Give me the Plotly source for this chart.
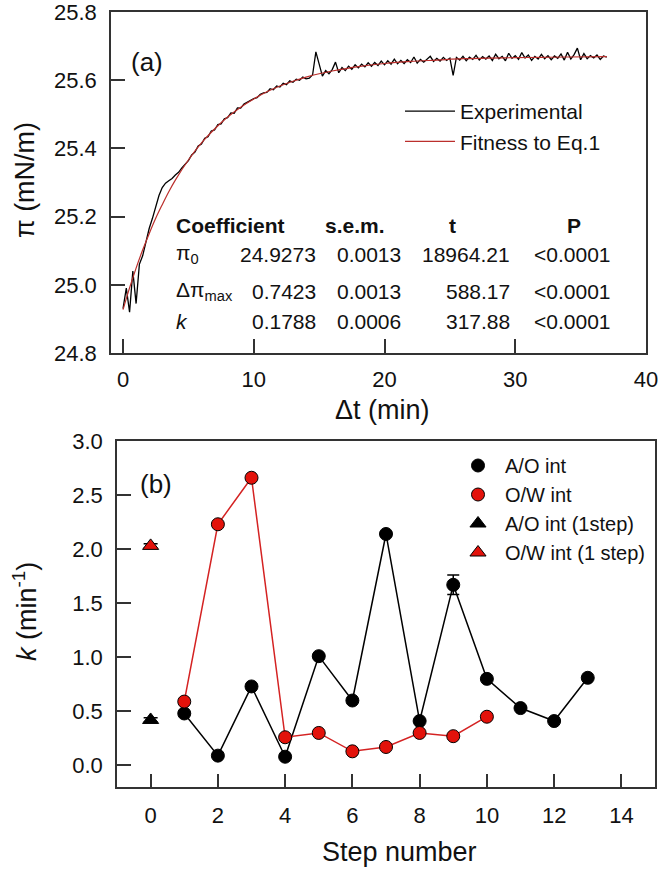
import plotly.graph_objects as go

# ---- panel (a): surface pressure vs time ----
t_step = 0.25  # min between samples of the experimental trace
pi_exp = [
    24.930, 24.990, 24.920, 25.040,
    24.945, 25.060, 25.085, 25.130,
    25.165, 25.195, 25.232, 25.262,
    25.285, 25.298, 25.305, 25.312,
    25.322, 25.330, 25.343, 25.355,
    25.364, 25.381, 25.389, 25.407,
    25.413, 25.430, 25.434, 25.451,
    25.454, 25.470, 25.472, 25.487,
    25.490, 25.504, 25.503, 25.519,
    25.518, 25.530, 25.535, 25.542,
    25.546, 25.549, 25.559, 25.563,
    25.564, 25.575, 25.572, 25.583,
    25.580, 25.591, 25.587, 25.598,
    25.594, 25.603, 25.600, 25.609,
    25.604, 25.606, 25.616, 25.683,
    25.647, 25.612, 25.628, 25.619,
    25.631, 25.653, 25.622, 25.637,
    25.628, 25.641, 25.632, 25.645,
    25.636, 25.647, 25.639, 25.651,
    25.641, 25.652, 25.643, 25.656,
    25.645, 25.657, 25.647, 25.662,
    25.648, 25.658, 25.649, 25.660,
    25.652, 25.668, 25.650, 25.661,
    25.653, 25.663, 25.670, 25.655,
    25.664, 25.656, 25.667, 25.658,
    25.665, 25.614, 25.667, 25.659,
    25.670, 25.657, 25.668, 25.661,
    25.673, 25.659, 25.669, 25.662,
    25.671, 25.658, 25.676, 25.663,
    25.670, 25.657, 25.679, 25.664,
    25.672, 25.661, 25.681, 25.665,
    25.674, 25.658, 25.670, 25.662,
    25.676, 25.663, 25.672, 25.660,
    25.671, 25.664, 25.677, 25.659,
    25.682, 25.662, 25.675, 25.694,
    25.660, 25.678, 25.663, 25.672,
    25.665, 25.674, 25.661, 25.671,
    25.668,
]

fit_t = [0, 0.5, 1, 1.5, 2, 2.5, 3, 3.5, 4, 5, 6, 7, 8, 9, 10, 11, 12, 13, 14,
         15, 16, 18, 20, 22, 24, 26, 28, 30, 32, 34, 37]
fit_pi = [24.927, 24.991, 25.049, 25.102, 25.150, 25.195, 25.235, 25.273,
          25.307, 25.366, 25.416, 25.457, 25.492, 25.521, 25.545, 25.566,
          25.583, 25.597, 25.609, 25.619, 25.627, 25.640, 25.649, 25.655,
          25.659, 25.663, 25.665, 25.666, 25.667, 25.668, 25.669]

coef_names = ['π<sub>0</sub>', 'Δπ<sub>max</sub>', '<i>k</i>']
coef_value = ['24.9273', '0.7423', '0.1788']
coef_sem = ['0.0013', '0.0013', '0.0006']
coef_t = ['18964.21', '588.17', '317.88']
coef_p = ['&lt;0.0001', '&lt;0.0001', '&lt;0.0001']

# ---- panel (b): rate constant per step ----
steps_ao = [1, 2, 3, 4, 5, 6, 7, 8, 9, 10, 11, 12, 13]
k_ao = [0.48, 0.09, 0.73, 0.08, 1.01, 0.60, 2.14, 0.41, 1.67, 0.80, 0.53, 0.41, 0.81]
k_ao_err = [0, 0, 0, 0, 0, 0, 0.02, 0, 0.09, 0, 0, 0, 0]
steps_ow = [1, 2, 3, 4, 5, 6, 7, 8, 9, 10]
k_ow = [0.59, 2.23, 2.66, 0.26, 0.30, 0.13, 0.17, 0.30, 0.27, 0.45]
step_1 = [0]
k_ao_1 = [0.42]
k_ao_1_err = [0.02]
k_ow_1 = [2.03]
k_ow_1_err = [0.02]

W, H = 664, 877
FONT = 'Liberation Sans, Arial, sans-serif'
RED_FIT = '#bb2f2c'
RED = '#e3120b'
AXC = '#333333'


def px(x):
    return x / W


def py(y):
    return 1 - y / H


fig = go.Figure()

fig.add_trace(go.Scatter(y=pi_exp, x0=0, dx=t_step, mode='lines', name='Experimental',
                         line=dict(color='black', width=1.3), xaxis='x', yaxis='y', legend='legend'))
fig.add_trace(go.Scatter(x=fit_t, y=fit_pi, mode='lines', name='Fitness to Eq.1',
                         line=dict(color=RED_FIT, width=1.2, shape='spline'),
                         xaxis='x', yaxis='y', legend='legend'))

mk_line = dict(color='black', width=1)
fig.add_trace(go.Scatter(x=steps_ao, y=k_ao, mode='lines', showlegend=False,
                         line=dict(color='black', width=1.5), xaxis='x2', yaxis='y2'))
fig.add_trace(go.Scatter(x=steps_ao, y=k_ao, mode='markers', name='A/O int', legendgroup='a',
                         marker=dict(symbol='circle', size=13, color='black', line=mk_line),
                         error_y=dict(type='data', array=k_ao_err, color='black', thickness=1.5, width=6),
                         xaxis='x2', yaxis='y2', legend='legend2'))
fig.add_trace(go.Scatter(x=steps_ow, y=k_ow, mode='lines', showlegend=False,
                         line=dict(color='#d42222', width=1.5), xaxis='x2', yaxis='y2'))
fig.add_trace(go.Scatter(x=steps_ow, y=k_ow, mode='markers', name='O/W int', legendgroup='b',
                         marker=dict(symbol='circle', size=13, color=RED, line=mk_line),
                         xaxis='x2', yaxis='y2', legend='legend2'))
fig.add_trace(go.Scatter(x=step_1, y=k_ao_1, mode='markers', name='A/O int (1step)', legendgroup='c',
                         marker=dict(symbol='triangle-up', size=14, color='black', line=mk_line),
                         error_y=dict(type='data', array=k_ao_1_err, color='black', thickness=1.5, width=7),
                         xaxis='x2', yaxis='y2', legend='legend2'))
fig.add_trace(go.Scatter(x=step_1, y=k_ow_1, mode='markers', name='O/W int (1 step)', legendgroup='d',
                         marker=dict(symbol='triangle-up', size=14, color=RED, line=mk_line),
                         error_y=dict(type='data', array=k_ow_1_err, color='black', thickness=1.5, width=7),
                         xaxis='x2', yaxis='y2', legend='legend2'))

axis_common = dict(showline=True, linecolor=AXC, linewidth=1.5, mirror=True, showgrid=False,
                   zeroline=False, ticks='inside', ticklen=14, tickwidth=1.5, tickcolor=AXC,
                   automargin=False, ticklabeloverflow='allow',
                   tickfont=dict(family=FONT, size=22, color='#111'))

annotations = []


def note(text, x, y, size=22, xanchor='center', angle=0):
    annotations.append(dict(text=text, x=px(x), y=py(y), xref='paper', yref='paper',
                            xanchor=xanchor, yanchor='middle', showarrow=False, textangle=angle,
                            font=dict(family=FONT, size=size, color='#111')))


note('(a)', 129, 62, size=26, xanchor='left')
note('(b)', 138, 484, size=26, xanchor='left')
note('π (mN/m)', 25, 180, size=27, angle=-90)
note('<i>k</i> (min<sup>-1</sup>)', 25, 612, size=27, angle=-90)
note('Δt (min)', 383, 410, size=27)
note('Step number', 399, 852, size=27)

# coefficient table
note('<b>Coefficient</b>', 174, 225, size=21, xanchor='left')
note('<b>s.e.m.</b>', 355, 225, size=21)
note('<b>t</b>', 452, 225, size=21)
note('<b>P</b>', 574, 225, size=21)
rows_y = [254, 291, 322]
for i, ry in enumerate(rows_y):
    note(coef_names[i], 174, ry, size=21, xanchor='left')
    note(coef_value[i], 318, ry, size=21, xanchor='right')
    note(coef_sem[i], 403, ry, size=21, xanchor='right')
    note(coef_t[i], 512, ry, size=21, xanchor='right')
    note(coef_p[i], 613, ry, size=21, xanchor='right')

fig.update_layout(
    width=W, height=H,
    margin=dict(l=0, r=0, t=0, b=0),
    paper_bgcolor='white', plot_bgcolor='white',
    xaxis=dict(axis_common, domain=[px(111), px(646)], range=[-0.92, 40],
               tickvals=[0, 10, 20, 30, 40], anchor='y', ticklabelstandoff=6),
    yaxis=dict(axis_common, domain=[py(353), py(12)], range=[24.8, 25.8],
               tickvals=[24.8, 25.0, 25.2, 25.4, 25.6, 25.8], tickformat='.1f',
               anchor='x', ticklabelstandoff=8),
    xaxis2=dict(axis_common, domain=[px(117), px(655)], range=[-1, 15],
                tickvals=[0, 2, 4, 6, 8, 10, 12, 14], ticklen=13, anchor='y2', ticklabelstandoff=8),
    yaxis2=dict(axis_common, domain=[py(787), py(441)], range=[-0.2, 3.0],
                tickvals=[0, 0.5, 1, 1.5, 2, 2.5, 3], tickformat='.1f', anchor='x2',
                ticklabelstandoff=8),
    legend=dict(x=px(400), y=py(91), xanchor='left', yanchor='top', bgcolor='rgba(0,0,0,0)',
                itemwidth=50, font=dict(family=FONT, size=21, color='#111')),
    legend2=dict(x=px(451), y=py(446), xanchor='left', yanchor='top', bgcolor='rgba(0,0,0,0)',
                 itemwidth=44, font=dict(family=FONT, size=20, color='#111'),
                 traceorder='grouped', tracegroupgap=0),
    annotations=annotations,
    showlegend=True,
)

# drop the browser's default 8px body margin so the figure sits at the page origin
fig.write_html('out.html', config={'displayModeBar': False},
               post_script="document.body.style.margin = '0px';")
